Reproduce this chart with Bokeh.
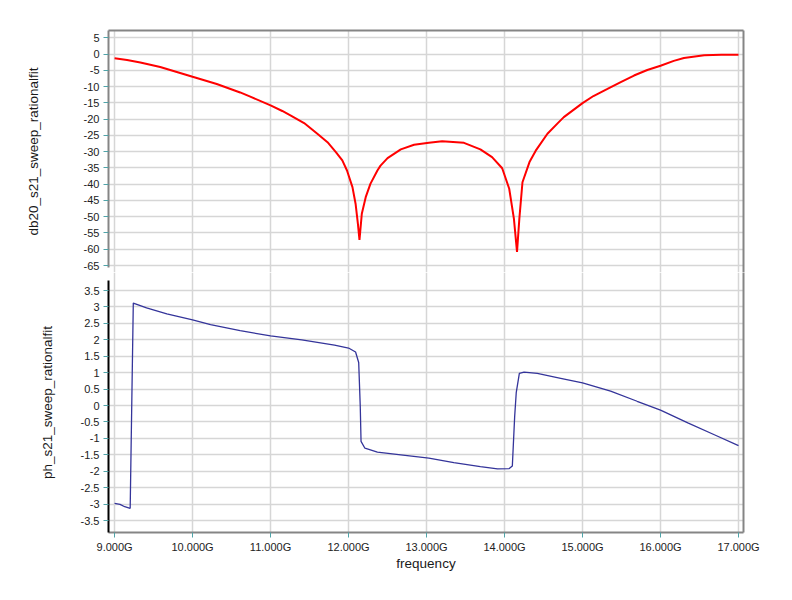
from bokeh.plotting import figure
from bokeh.layouts import column
from bokeh.models import Range1d, LinearAxis, FixedTicker, PrintfTickFormatter
from bokeh.embed import file_html
from bokeh.resources import INLINE

# ---- data (GHz) ----
freq_db = [9.0, 9.16, 9.33, 9.585, 10.0, 10.31, 10.61, 10.74, 11.0, 11.15, 11.26, 11.43,
           11.60, 11.73, 11.84, 11.92, 11.98, 12.05, 12.09, 12.12, 12.14, 12.17, 12.22,
           12.28, 12.37, 12.41, 12.50, 12.67, 12.84, 13.03, 13.20, 13.48, 13.69, 13.84,
           13.97, 14.06, 14.12, 14.16, 14.19, 14.23, 14.32, 14.40, 14.55, 14.68, 14.76,
           15.0, 15.14, 15.32, 15.49, 15.66, 15.83, 16.0, 16.17, 16.30, 16.56, 16.78, 17.0]
db20_s21 = [-1.3, -1.8, -2.6, -4.0, -7.0, -9.2, -11.8, -13.1, -15.8, -17.5, -18.9, -21.2,
            -24.5, -27.1, -30.2, -32.7, -35.8, -40.9, -46.0, -52.2, -57.1, -49.1, -44.0,
            -39.9, -35.8, -34.3, -32.0, -29.3, -27.9, -27.3, -26.8, -27.3, -29.3, -31.7,
            -35.1, -41.4, -50.6, -60.8, -50.6, -39.4, -33.2, -29.7, -24.5, -21.3, -19.4,
            -15.1, -12.9, -10.7, -8.6, -6.6, -4.9, -3.6, -2.1, -1.2, -0.4, -0.2, -0.2]

freq_ph = [9.0, 9.07, 9.13, 9.20, 9.24, 9.41, 9.67, 10.0, 10.23, 10.61, 11.0, 11.40, 11.82,
           12.0, 12.09, 12.13, 12.15, 12.16, 12.21, 12.37, 12.67, 13.03, 13.35, 13.69,
           13.91, 14.06, 14.10, 14.13, 14.15, 14.19, 14.25, 14.42, 14.72, 15.0, 15.36,
           15.70, 16.0, 16.35, 16.69, 17.0]
ph_s21 = [-2.98, -3.01, -3.08, -3.13, 3.12, 2.97, 2.79, 2.61, 2.46, 2.28, 2.12, 2.0, 1.84,
          1.75, 1.63, 1.31, -0.02, -1.09, -1.30, -1.42, -1.50, -1.60, -1.74, -1.86,
          -1.93, -1.92, -1.84, -0.33, 0.39, 0.98, 1.02, 0.98, 0.83, 0.69, 0.44,
          0.13, -0.14, -0.53, -0.89, -1.22]

x_ticks = [9, 10, 11, 12, 13, 14, 15, 16, 17]
db_ticks = [5, 0, -5, -10, -15, -20, -25, -30, -35, -40, -45, -50, -55, -60, -65]
ph_ticks = [3.5, 3, 2.5, 2, 1.5, 1, 0.5, 0, -0.5, -1, -1.5, -2, -2.5, -3, -3.5]

FONT = "Liberation Sans"
GRID = "#d6d6d6"
BORDER = "#858585"
TICK = "#4fa3a8"

xr = Range1d(8.922, 17.064)


def style_yaxis(ax, ticks, line_color, standoff):
    ax.ticker = FixedTicker(ticks=ticks)
    ax.major_label_overrides = {t: f"{t:g}" for t in ticks}
    ax.axis_line_color = line_color
    ax.axis_line_width = 2
    ax.major_tick_line_color = TICK
    ax.major_tick_out = 5
    ax.major_tick_in = 0
    ax.minor_tick_line_color = None
    ax.major_label_standoff = 4
    ax.major_label_text_font = FONT
    ax.major_label_text_font_size = "11px"
    ax.major_label_text_color = "#222222"
    ax.axis_label_text_font = FONT
    ax.axis_label_text_font_size = "13.5px"
    ax.axis_label_text_font_style = "normal"
    ax.axis_label_text_color = "#1a1a1a"
    ax.axis_label_standoff = standoff


def border_axis(p, side):
    ax = LinearAxis(ticker=FixedTicker(ticks=[]), axis_line_color=BORDER, axis_line_width=2,
                    major_tick_line_color=None, minor_tick_line_color=None,
                    major_label_text_font_size="0px")
    p.add_layout(ax, side)


def style_grid(p, yticks):
    p.xgrid.ticker = FixedTicker(ticks=x_ticks)
    p.ygrid.ticker = FixedTicker(ticks=yticks)
    for g in (p.xgrid, p.ygrid):
        g.grid_line_color = GRID
        g.grid_line_width = 1.5


# ---- top panel ----
p1 = figure(width=784, height=272, x_range=xr, y_range=Range1d(-67.15, 7.24),
            output_backend="svg", toolbar_location=None, x_axis_location=None,
            min_border_left=108, min_border_right=41, min_border_top=30, min_border_bottom=0)
p1.outline_line_color = None
p1.yaxis.axis_label = "db20_s21_sweep_rationalfit"
style_yaxis(p1.yaxis[0], db_ticks, BORDER, 40)
p1.yaxis[0].bounds = (-65.5, 7.24)
style_grid(p1, db_ticks)
border_axis(p1, "above")
border_axis(p1, "right")
p1.line(freq_db, db20_s21, line_color="#ff0000", line_width=2)

# ---- bottom panel ----
p2 = figure(width=784, height=320, x_range=xr, y_range=Range1d(-3.865, 4.05),
            output_backend="svg", toolbar_location=None,
            min_border_left=108, min_border_right=41, min_border_top=0, min_border_bottom=60)
p2.outline_line_color = None
p2.yaxis.axis_label = "ph_s21_sweep_rationalfit"
style_yaxis(p2.yaxis[0], ph_ticks, "#000000", 23)
p2.yaxis[0].bounds = (-3.865, 3.8)
style_grid(p2, ph_ticks)
border_axis(p2, "right")

xa = p2.xaxis[0]
xa.ticker = FixedTicker(ticks=x_ticks)
xa.formatter = PrintfTickFormatter(format="%.3fG")
xa.axis_label = "frequency"
xa.axis_line_color = BORDER
xa.axis_line_width = 2
xa.major_tick_line_color = TICK
xa.major_tick_out = 5
xa.major_tick_in = 0
xa.minor_tick_line_color = None
xa.major_label_standoff = 3
xa.major_label_text_font = FONT
xa.major_label_text_font_size = "11px"
xa.major_label_text_color = "#222222"
xa.axis_label_text_font = FONT
xa.axis_label_text_font_size = "13.5px"
xa.axis_label_text_font_style = "normal"
xa.axis_label_text_color = "#1a1a1a"
xa.axis_label_standoff = 0

p2.line(freq_ph, ph_s21, line_color="#34349a", line_width=1.3)

layout = column(p1, p2, spacing=0)
open("out.html", "w").write(file_html(layout, INLINE))
